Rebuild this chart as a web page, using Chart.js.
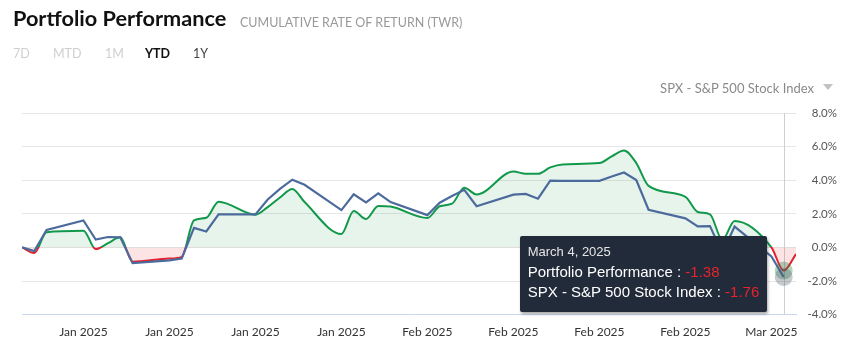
<!DOCTYPE html>
<html>
<head>
<meta charset="utf-8">
<script src="https://cdn.jsdelivr.net/npm/chart.js@4.4.1/dist/chart.umd.min.js"></script>
<style>
  body { margin: 0; background: #fff; font-family: Lato, sans-serif; }
  #wrap { position: relative; width: 856px; height: 358px; overflow: hidden; }
  #chart { position: absolute; left: 0; top: 0; }
  .title { position: absolute; left: 13px; top: 8px; font-size: 21.7px; line-height: 21px; font-weight: 700; color: #111; white-space: nowrap; }
  .subtitle { position: absolute; left: 240px; top: 16px; font-size: 12.5px; line-height: 13px; color: #999; white-space: nowrap; }
  .range { position: absolute; top: 47px; font-size: 12.5px; line-height: 13px; color: #cfcfcf; }
  .range.on { color: #111; font-weight: 700; }
  .range.dark { color: #444; }
  .compare { position: absolute; right: 42px; top: 82px; font-size: 13px; line-height: 13px; color: #8a8a8a; white-space: nowrap; }
  .caret { position: absolute; left: 823px; top: 84px; width: 0; height: 0;
           border-left: 5px solid transparent; border-right: 5px solid transparent; border-top: 6px solid #c2c2c2; }
  #tip { position: absolute; background: #222b3a; color: #fff; border-radius: 2px; padding: 8px 8px 10px 8px;
         font-family: 'Liberation Sans', Arial, sans-serif; box-shadow: 1px 2px 3px rgba(0,0,0,0.35);
         pointer-events: none; white-space: nowrap; opacity: 0; }
  #tip .date { font-size: 13px; line-height: 16px; color: #e6e6e6; }
  #tip .row { font-size: 15px; line-height: 20px; }
  #tip .rows { margin-top: 2px; }
</style>
</head>
<body>
<div id="wrap">
  <canvas id="chart" width="856" height="358"></canvas>
  <div class="title">Portfolio Performance</div>
  <div class="subtitle">CUMULATIVE RATE OF RETURN (TWR)</div>
  <div class="range" style="left:13px">7D</div>
  <div class="range" style="left:53px">MTD</div>
  <div class="range" style="left:105px">1M</div>
  <div class="range on" style="left:145px">YTD</div>
  <div class="range dark" style="left:193px">1Y</div>
  <div class="compare">SPX - S&amp;P 500 Stock Index</div>
  <div class="caret"></div>
  <div id="tip"></div>
</div>
<script>
// days counted from Jan 1, 2025
const days = [0, 1, 2, 5, 6, 7, 8, 9, 12, 13, 14, 15, 16, 19, 20, 21, 22, 23, 26, 27, 28, 29, 30,
              33, 34, 35, 36, 37, 40, 41, 42, 43, 44, 47, 48, 49, 50, 51, 54, 55, 56, 57, 58, 61, 62, 63];
const portfolio = [0, -0.34, 0.90, 0.99, -0.10, 0.25, 0.60, -0.85, -0.66, -0.56, 1.61, 1.76, 2.72, 1.95, 2.40, 2.97, 3.48, 2.70, 0.80, 2.17, 1.69, 2.47, 2.43,
                   1.75, 2.45, 2.60, 3.55, 3.15, 4.52, 4.38, 4.38, 4.76, 4.94, 5.02, 5.42, 5.77, 5.02, 3.66, 3.01, 2.11, 1.97, 0.45, 1.57, 0.00, -1.38, -0.40];
const spx = [0, -0.22, 1.04, 1.60, 0.47, 0.62, 0.60, -0.93, -0.77, -0.66, 1.16, 0.95, 1.96, 1.96, 2.85, 3.48, 4.03, 3.73, 2.22, 3.16, 2.68, 3.22, 2.70,
             1.92, 2.66, 3.06, 3.43, 2.45, 3.14, 3.18, 2.90, 3.97, 3.96, 3.96, 4.22, 4.46, 4.01, 2.24, 1.73, 1.25, 1.27, -0.34, 1.24, -0.54, -1.76, null];
const tickDays = [5, 12, 19, 26, 33, 40, 47, 54, 61];
const tickLabels = ['Jan 2025', 'Jan 2025', 'Jan 2025', 'Jan 2025', 'Feb 2025', 'Feb 2025', 'Feb 2025', 'Feb 2025', 'Mar 2025'];
const hoverDay = 62;

const GREEN = '#12984a';
const RED = '#e3202b';
const BLUE = '#4c6b9c';

// green above zero, red below
function splitColor(ctx) {
    const chart = ctx.chart;
    const area = chart.chartArea;
    if (!area) return GREEN;
    const zero = chart.scales.y.getPixelForValue(0);
    const stop = Math.min(1, Math.max(0, (zero - area.top) / (area.bottom - area.top)));
    const g = chart.ctx.createLinearGradient(0, area.top, 0, area.bottom);
    g.addColorStop(0, GREEN);
    g.addColorStop(stop, GREEN);
    g.addColorStop(stop, RED);
    g.addColorStop(1, RED);
    return g;
}

function dayToDate(d) {
    return new Date(2025, 0, 1 + d).toLocaleDateString('en-US', { month: 'long', day: 'numeric', year: 'numeric' });
}

function externalTooltip(context) {
    const { chart, tooltip } = context;
    const el = document.getElementById('tip');
    if (tooltip.opacity === 0) { el.style.opacity = 0; return; }
    const items = tooltip.dataPoints.slice().sort((a, b) => a.datasetIndex - b.datasetIndex);
    let html = '<div class="date">' + dayToDate(items[0].parsed.x) + '</div><div class="rows">';
    items.forEach(it => {
        const v = it.parsed.y;
        html += '<div class="row">' + it.dataset.label + ' : <span style="color:' + (v < 0 ? '#e8222c' : '#2bb35a') + '">' + v.toFixed(2) + '</span></div>';
    });
    html += '</div>';
    el.innerHTML = html;
    el.style.opacity = 1;
    const w = el.offsetWidth, h = el.offsetHeight;
    el.style.left = (chart.canvas.offsetLeft + tooltip.caretX - w - 16) + 'px';
    el.style.top = (chart.canvas.offsetTop + tooltip.caretY - h / 2) + 'px';
}

const crosshair = {
    id: 'crosshair',
    beforeDatasetsDraw(chart) {
        const active = chart.tooltip ? chart.tooltip.getActiveElements() : [];
        if (!active.length) return;
        const x = active[0].element.x;
        const { top, bottom } = chart.chartArea;
        const ctx = chart.ctx;
        ctx.save();
        ctx.strokeStyle = '#cfcfcf';
        ctx.lineWidth = 1;
        ctx.beginPath();
        ctx.moveTo(Math.round(x) + 0.5, top);
        ctx.lineTo(Math.round(x) + 0.5, bottom);
        ctx.stroke();
        ctx.restore();
    }
};

const ctx = document.getElementById('chart').getContext('2d');
const chart = new Chart(ctx, {
    type: 'line',
    data: {
        datasets: [{
            label: 'Portfolio Performance',
            data: days.map((d, i) => ({ x: d, y: portfolio[i] })),
            borderColor: splitColor,
            borderWidth: 2,
            cubicInterpolationMode: 'monotone',
            fill: { target: { value: 0 }, above: 'rgba(20,150,70,0.10)', below: 'rgba(230,30,40,0.12)' },
            pointRadius: 0,
            pointHoverRadius: 9,
            pointHoverBorderWidth: 0,
            pointHoverBackgroundColor: 'rgba(40,130,75,0.35)',
            order: 2
        }, {
            label: 'SPX - S&P 500 Stock Index',
            data: days.map((d, i) => ({ x: d, y: spx[i] })),
            borderColor: BLUE,
            borderWidth: 2.2,
            tension: 0,
            fill: false,
            pointRadius: 0,
            pointHoverRadius: 9,
            pointHoverBorderWidth: 0,
            pointHoverBackgroundColor: 'rgba(70,80,90,0.3)',
            order: 1
        }]
    },
    options: {
        responsive: false,
        animation: false,
        devicePixelRatio: 1,
        layout: { padding: { left: 22, right: 19, top: 113, bottom: 9 } },
        interaction: { mode: 'index', intersect: false },
        plugins: {
            legend: { display: false },
            tooltip: { enabled: false, mode: 'index', intersect: false, external: externalTooltip }
        },
        scales: {
            x: {
                type: 'linear',
                min: 0,
                max: 63,
                afterBuildTicks: axis => { axis.ticks = tickDays.map(v => ({ value: v })); },
                ticks: {
                    autoSkip: false,
                    maxRotation: 0,
                    padding: 10,
                    color: '#333',
                    font: { family: 'Lato', size: 12 },
                    callback: (value, index) => tickLabels[index]
                },
                grid: { display: false, drawTicks: false },
                border: { color: '#c9d8ef' }
            },
            y: {
                position: 'right',
                min: -4,
                max: 8,
                afterFit: s => { s.width = 41; },
                ticks: {
                    stepSize: 2,
                    padding: 12,
                    crossAlign: 'far',
                    color: '#555',
                    font: { family: 'Lato', size: 11.5 },
                    callback: v => v.toFixed(1) + '%'
                },
                grid: {
                    drawTicks: false,
                    color: c => (c.tick && c.tick.value === -4) ? 'rgba(0,0,0,0)' : '#e6e6e6'
                },
                border: { display: false }
            }
        }
    },
    plugins: [crosshair]
});

const idx = days.indexOf(hoverDay);
const active = [{ datasetIndex: 0, index: idx }, { datasetIndex: 1, index: idx }];
chart.setActiveElements(active);
const m0 = chart.getDatasetMeta(0).data[idx];
const m1 = chart.getDatasetMeta(1).data[idx];
chart.tooltip.setActiveElements(active, { x: m0.x, y: (m0.y + m1.y) / 2 });
chart.update();
</script>
</body>
</html>
